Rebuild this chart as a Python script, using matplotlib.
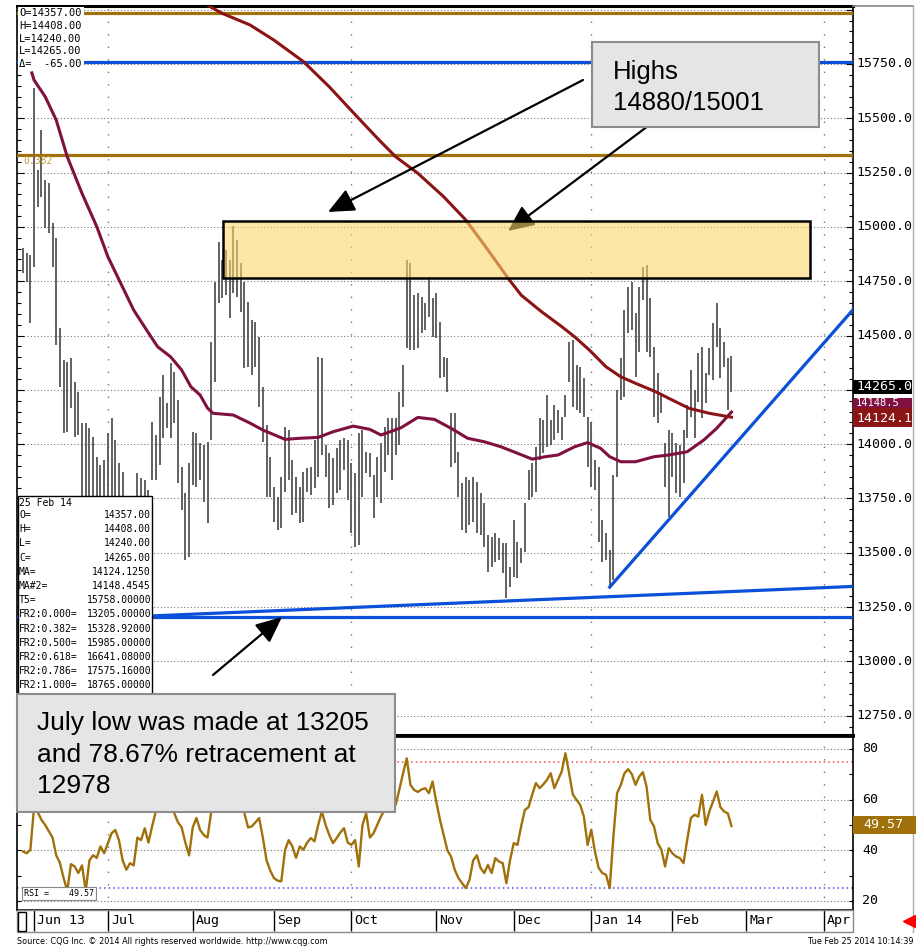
import matplotlib
matplotlib.use("Agg")
import matplotlib.pyplot as plt
import matplotlib.patches as mpatches
import matplotlib.lines as mlines
from matplotlib.ticker import MultipleLocator
import pandas as pd

# daily bars, 29 May 2013 .. 25 Feb 2014
highs = [14901, 14880, 14870, 15639, 15262, 15446, 15216, 15202, 15018, 14949,
         14535, 14387, 14378, 14396, 14286, 14240, 14097, 14097, 14074, 14033,
         13941, 13904, 13927, 14051, 14120, 14019, 13913, 13872, 13750, 13700,
         13720, 13867, 13844, 13835, 13789, 14102, 14042, 14217, 14318, 14189,
         14373, 14332, 14203, 13895, 13775, 13913, 14056, 14051, 14005, 13996,
         14009, 14470, 14746, 14930, 14848, 14894, 14848, 15003, 14940, 14834,
         14746, 14654, 14571, 14562, 14493, 14263, 14088, 13941, 13803, 13756,
         13849, 14079, 14065, 13927, 13849, 13803, 13872, 13890, 13895, 14019,
         14401, 14396, 13996, 13959, 13936, 13982, 14019, 14028, 14019, 13913,
         13867, 14051, 14065, 13964, 13959, 13858, 13941, 14005, 14080, 14120,
         14120, 14120, 14240, 14364, 14848, 14834, 14686, 14696, 14677, 14650,
         14769, 14673, 14696, 14562, 14401, 14396, 14143, 14143, 13964, 13820,
         13849, 13835, 13849, 13826, 13775, 13729, 13581, 13572, 13591, 13568,
         13545, 13545, 13434, 13651, 13549, 13522, 13729, 13881, 13913, 13987,
         14120, 14111, 14226, 14111, 14180, 14157, 14125, 14226, 14470, 14479,
         14364, 14355, 14304, 14125, 14102, 13927, 13895, 13651, 13591, 13512,
         13858, 14249, 14396, 14617, 14723, 14746, 14604, 14723, 14815, 14824,
         14673, 14447, 14327, 14235, 14005, 14065, 14051, 14005, 13996, 14065,
         14180, 14341, 14249, 14419, 14447, 14327, 14442, 14557, 14650, 14535,
         14470, 14396, 14408]
lows = [14786, 14746, 14557, 14815, 15092, 15138, 14995, 14972, 14815, 14456,
        14263, 14051, 14055, 14166, 14033, 14042, 13700, 13650, 13600, 13650,
        13600, 13550, 13600, 13700, 13750, 13700, 13650, 13550, 13500, 13205,
        13480, 13550, 13600, 13620, 13600, 13835, 13835, 13904, 14028, 14074,
        14028, 14097, 13821, 13697, 13466, 13480, 13812, 13803, 13835, 13733,
        13636, 14019, 14286, 14650, 14673, 14686, 14581, 14696, 14677, 14608,
        14350, 14355, 14318, 14355, 14171, 14010, 13756, 13756, 13641, 13605,
        13614, 13779, 13835, 13674, 13683, 13637, 13641, 13779, 13766, 13798,
        13849, 13950, 13849, 13706, 13720, 13775, 13789, 13881, 13743, 13591,
        13526, 13535, 13756, 13867, 13849, 13660, 13756, 13729, 13870, 13950,
        13835, 13950, 13996, 14171, 14442, 14433, 14433, 14442, 14511, 14525,
        14585, 14493, 14489, 14304, 14309, 14240, 13895, 13913, 13756, 13604,
        13591, 13627, 13641, 13591, 13582, 13526, 13411, 13434, 13457, 13466,
        13407, 13291, 13342, 13388, 13384, 13453, 13503, 13743, 13756, 13779,
        13927, 13959, 13987, 13996, 14019, 14051, 14019, 14125, 14286, 14170,
        14157, 14143, 14125, 13895, 13803, 13789, 13549, 13457, 13466, 13342,
        13374, 13849, 14203, 14217, 14511, 14525, 14309, 14424, 14663, 14424,
        14401, 14125, 14097, 14143, 13803, 13664, 13849, 13775, 13756, 13821,
        14028, 14125, 14028, 14194, 14120, 14189, 14318, 14295, 14447, 14304,
        14355, 14157, 14240]
rsi = [39.5, 38.8, 40.2, 57, 55, 52, 50, 47.5, 45, 38,
       35, 29, 24, 34.5, 33.6, 31, 34, 24, 36, 38,
       37, 41.5, 38.8, 42.8, 46.7, 48, 44, 36, 32.3, 34.9,
       34, 45, 44, 48.7, 43, 49.5, 55.3, 58, 62, 64,
       60, 54.6, 51, 49, 43, 38, 49, 52.7, 48, 46,
       45, 55, 60, 66, 71, 68, 69, 66, 70, 64,
       54.6, 49, 49.4, 51, 52.7, 45, 36, 32, 29, 28,
       27.7, 40, 44, 41.5, 37, 41.5, 40.2, 43, 44.8, 43.5,
       50, 55.3, 50, 46, 42.8, 44.8, 47, 48.7, 43, 42.1,
       44, 33.6, 50, 54.6, 45, 46.7, 50, 53.3, 55.9, 55.9,
       55.5, 58, 64, 70.4, 76.3, 65.8, 63.8, 63, 64, 64.5,
       62.5, 67.1, 59.2, 52, 46, 40, 37.5, 32.3, 29, 27,
       25, 28.3, 36, 38, 33, 31, 34.2, 31, 36.9, 35.5,
       34.9, 27, 36.2, 42.8, 42.1, 49.4, 55.9, 57, 62, 66.5,
       64.5, 66, 67.8, 70.4, 64.5, 67.8, 71.1, 78.3, 70.4, 62,
       59.9, 57.9, 53.3, 42.1, 48.1, 39.5, 33, 31, 30.3, 25,
       45.4, 62.5, 65.8, 70.4, 72, 70, 65.8, 69.1, 70.8, 65,
       52, 49.4, 42.8, 40.2, 33.6, 40.8, 38.8, 37.5, 36.9, 34.9,
       44.1, 52.7, 54, 53.3, 61.9, 50, 55.3, 59.2, 63.2, 57,
       55.3, 54.6, 49.57]

# moving averages traced at bar positions
ma_idx = [49, 54, 61.5, 68, 76, 83, 90.5, 96.5, 101, 107, 114, 120, 126, 131.5,
          135, 140.5, 146, 149.5, 153.5, 158, 162, 166, 171.5, 175, 180.5, 186, 192]
ma_val = [16030, 15983, 15930, 15860, 15761, 15645, 15508, 15400, 15323, 15247,
          15139, 15032, 14894, 14763, 14686, 14610, 14541, 14494, 14433, 14356,
          14310, 14280, 14241, 14211, 14165, 14142, 14124]
ma2_idx = [2.4, 3, 6, 9, 12, 16, 20, 23, 26.5, 30, 34, 36.5, 40, 43, 45.5, 48, 50,
           51.5, 57, 61.5, 65, 71, 75, 80, 84, 89.5, 94, 97, 99.5, 102.5, 107,
           111.5, 116, 120.5, 125, 129.5, 134, 138, 141.5, 145, 149.5, 153,
           156.5, 159, 162, 166, 171, 175, 180, 184.5, 188, 192]
ma2_val = [15709, 15676, 15600, 15492, 15323, 15154, 15001, 14863, 14740, 14617,
           14512, 14448, 14402, 14341, 14264, 14226, 14166, 14142, 14134, 14097,
           14065, 14022, 14027, 14031, 14057, 14083, 14068, 14042, 14057, 14076,
           14123, 14114, 14073, 14027, 14011, 13988, 13958, 13931, 13942, 13950,
           13988, 14007, 13981, 13942, 13919, 13919, 13942, 13950, 13965, 14019,
           14073, 14148]

# levels
t5 = 15758.0
fr_levels = {"0.000": 13205.0, "0.382": 15328.92, "0.500": 15985.0,
             "0.618": 16641.08, "0.786": 17575.16, "1.000": 18765.0}
# trend lines: (bar index pair, price pair)
trend1_x, trend1_y = [29, 225], [13205, 13345]
trend2_x, trend2_y = [159, 225], [13342, 14620]
# highs zone
zone_x = [54.3, 213.3]
zone_y = [14765, 15025]

last_ohlc = [14357.00, 14408.00, 14240.00, 14265.00]
last_delta = -65.00
ma_last, ma2_last = 14124.1250, 14148.4545
rsi_last = 49.57
ob, os_ = 75, 25

W, H = 916, 949
fig = plt.figure(figsize=(W / 100, H / 100), dpi=100)

def fx(x):
    return x / W

def fy(y):
    return 1 - y / H

YTOP, YBOT = 16017, 12661
X0, X1 = 17, 853
ax = fig.add_axes([fx(X0), fy(735), (X1 - X0) / W, (735 - 6) / H])
ax2 = fig.add_axes([fx(X0), fy(910), (X1 - X0) / W, (910 - 736) / H])
xl = ((X0 - 23) / 3.69, (X1 - 23) / 3.69)

def ypix(p):
    return 6 + (YTOP - p) / (YTOP - YBOT) * 729

mono = "DejaVu Sans Mono"
gold = "#A0700A"
blue = "#0A50D8"
grid_c = "#777777"

n = len(highs)
dates = pd.bdate_range("2013-05-29", "2014-04-30", freq="C",
                       holidays=["2013-12-25", "2014-01-01"])
month_pos, month_lab = [], []
for i in range(1, len(dates)):
    if dates[i].month != dates[i - 1].month:
        month_pos.append(i)
        d = dates[i]
        if d.month == 6 or d.month == 1:
            month_lab.append(d.strftime("%b %y"))
        else:
            month_lab.append(d.strftime("%b"))
quarter_pos = [p for p in month_pos if dates[p].month in (1, 4, 7, 10)]

# ---- price panel
ax.set_xlim(*xl)
ax.set_ylim(YBOT, YTOP)
for lv in range(12750, 16001, 250):
    ax.axhline(lv, color=grid_c, lw=0.8, ls=(0, (1, 2)), zorder=1)
for q in quarter_pos:
    ax.axvline(q, color=grid_c, lw=1.0, ls=(0, (1, 8)), zorder=1)

ax.vlines(range(n), lows, highs, colors="#555555", lw=1.3, zorder=2)

ax.axhline(fr_levels["0.500"], color=gold, lw=2.3, zorder=3)
ax.axhline(fr_levels["0.382"], color=gold, lw=2.3, zorder=3)
ax.axhline(t5, color=blue, lw=2.3, zorder=3)
ax.axhline(fr_levels["0.000"], color=blue, lw=2.3, zorder=3)
ax.plot(trend1_x, trend1_y, color=blue, lw=2.3, zorder=3)
ax.plot(trend2_x, trend2_y, color=blue, lw=2.3, zorder=3)
ax.text(0.0, fr_levels["0.382"] - 25, "0.382", color="#C89A40", fontsize=7,
        family=mono, va="center", zorder=3)

ax.plot(ma2_idx, ma2_val, color="#7F1040", lw=2.2, zorder=4)
ax.plot(ma_idx, ma_val, color="#8B1414", lw=2.2, zorder=4)

arrow_kw = dict(arrowstyle="-|>,head_length=0.4,head_width=0.18", mutation_scale=40,
                lw=1.6, color="black", shrinkA=0, shrinkB=0)
for tail, head in [((583, 80), (328, 212)), ((660, 117), (508, 231)), ((213, 675), (282, 617))]:
    ax.annotate("", xy=(head[0], H - head[1]), xycoords="figure pixels",
                xytext=(tail[0], H - tail[1]), textcoords="figure pixels",
                arrowprops=arrow_kw, zorder=5, annotation_clip=False)

ax.add_patch(mpatches.Rectangle((zone_x[0], zone_y[0]), zone_x[1] - zone_x[0],
                                zone_y[1] - zone_y[0],
                                facecolor=(252 / 255, 215 / 255, 107 / 255, 0.6),
                                edgecolor="black", lw=1.8, zorder=7))

ax.yaxis.set_major_locator(MultipleLocator(250))
ax.yaxis.set_minor_locator(MultipleLocator(50))
ax.set_xticks([])
ax.tick_params(axis="y", which="both", direction="in", left=True, right=True,
               labelleft=False, labelright=False, width=0.8)
ax.tick_params(axis="y", which="major", length=5)
ax.tick_params(axis="y", which="minor", length=3)
for s in ax.spines.values():
    s.set_color("black")
    s.set_linewidth(1.2)
ax.spines["top"].set_linewidth(2.2)
ax.spines["bottom"].set_linewidth(2.2)

for lv in range(12750, 15751, 250):
    if lv == 14250:
        continue
    ax.text(1.0036, lv, f"{lv:.1f}", transform=ax.get_yaxis_transform(),
            fontsize=9.5, family=mono, va="center", ha="left", clip_on=False)

# ---- RSI panel
ax2.set_xlim(*xl)
ax2.set_ylim(16.4, 85.1)
for lv in (20, 40, 60, 80):
    ax2.axhline(lv, color=grid_c, lw=0.8, ls=(0, (1, 2)), zorder=1)
for q in quarter_pos:
    ax2.axvline(q, color=grid_c, lw=1.0, ls=(0, (1, 8)), zorder=1)
ax2.axhline(ob, color="#FF4A4A", lw=1.1, ls=(0, (1, 2)), zorder=2)
ax2.axhline(os_, color="#4A4AFF", lw=1.1, ls=(0, (1, 2)), zorder=2)
ax2.plot(range(n), rsi, color=gold, lw=1.7, zorder=3)

ax2.yaxis.set_major_locator(MultipleLocator(20))
ax2.yaxis.set_minor_locator(MultipleLocator(10))
ax2.tick_params(axis="y", which="both", direction="in", left=True, right=True,
                labelleft=False, labelright=False, width=0.8, length=3)
ax2.set_xticks(month_pos)
ax2.tick_params(axis="x", which="major", direction="out", length=15, width=1,
                labelbottom=False)
for s in ax2.spines.values():
    s.set_color("black")
    s.set_linewidth(1.2)
ax2.spines["top"].set_linewidth(2.0)
for lv in (20, 40, 60, 80):
    ax2.text(1.011, lv, str(lv), transform=ax2.get_yaxis_transform(),
             fontsize=9.5, family=mono, va="center", ha="left", clip_on=False)
for p, lab in zip(month_pos, month_lab):
    ax2.text(p + 0.8, -0.063, lab, transform=ax2.get_xaxis_transform(),
             fontsize=9.5, family=mono, va="center", ha="left", clip_on=False)
ax2.text(0.2, 23.0, f"RSI =    {rsi_last:.2f}", fontsize=6, family=mono, va="center",
         ha="left", zorder=6,
         bbox=dict(boxstyle="square,pad=0.25", fc="white", ec="#888888", lw=0.8))

# ---- figure level boxes and labels
def frect(x0, y0, x1, y1, **kw):
    r = mpatches.Rectangle((fx(x0), fy(y1)), (x1 - x0) / W, (y1 - y0) / H,
                           transform=fig.transFigure, **kw)
    fig.add_artist(r)
    return r

# top-left quote
frect(18, 7, 84, 71, fc="white", ec="none", zorder=5)
quote = [f"O={last_ohlc[0]:.2f}", f"H={last_ohlc[1]:.2f}", f"L={last_ohlc[2]:.2f}",
         f"L={last_ohlc[3]:.2f}", f"\u0394=  {last_delta:.2f}"]
for k, t in enumerate(quote):
    fig.text(fx(19), fy(13 + 12.8 * k), t, fontsize=7.5, family=mono, va="center",
             ha="left", zorder=6)

# info box
frect(18, 496, 152, 695, fc="white", ec="black", lw=1.0, zorder=5)
info = [("O=", f"{last_ohlc[0]:.2f}"), ("H=", f"{last_ohlc[1]:.2f}"),
        ("L=", f"{last_ohlc[2]:.2f}"), ("C=", f"{last_ohlc[3]:.2f}"),
        ("MA=", f"{ma_last:.4f}"), ("MA#2=", f"{ma2_last:.4f}"),
        ("T5=", f"{t5:.5f}")]
info += [(f"FR2:{k}=", f"{v:.5f}") for k, v in fr_levels.items()]
fig.text(fx(19), fy(503), "25 Feb 14", fontsize=7, family=mono, va="center", zorder=6)
for k, (a, b) in enumerate(info):
    yy = 515 + 14.2 * k
    fig.text(fx(19), fy(yy), a, fontsize=7, family=mono, va="center", ha="left", zorder=6)
    fig.text(fx(151), fy(yy), b, fontsize=7, family=mono, va="center", ha="right", zorder=6)

# highs callout
frect(592, 42, 819, 127, fc="#E5E5E5", ec="#8C8C8C", lw=1.5, zorder=5)
fig.text(fx(613), fy(79), "Highs", fontsize=18.5, family="Liberation Sans",
         va="baseline", ha="left", zorder=6)
fig.text(fx(613), fy(110), "14880/15001", fontsize=18.5, family="Liberation Sans",
         va="baseline", ha="left", zorder=6)

# July low callout
frect(17, 694, 395, 812, fc="#E5E5E5", ec="#8C8C8C", lw=1.5, zorder=5)
for t, yb in [("July low was made at 13205", 730), ("and 78.67% retracement at", 762),
              ("12978", 793)]:
    fig.text(fx(37), fy(yb), t, fontsize=19, family="Liberation Sans",
             va="baseline", ha="left", zorder=6)

# right side value boxes
def side_box(yc, h, color, text, x_text=856, x1=912, size=9.5):
    frect(853, yc - h / 2, x1, yc + h / 2, fc=color, ec="none", zorder=6)
    fig.text(fx(x_text), fy(yc), text, color="white", fontsize=size, family=mono,
             va="center", ha="left", zorder=7)

side_box(ypix(last_ohlc[3]), 14, "black", f"{last_ohlc[3]:.1f}")
side_box(403, 11, "#7F1040", f"{ma2_last:.1f}", size=7.5)
side_box(418, 19, "#8B1414", f"{ma_last:.1f}")
side_box(825, 18, gold, f"{rsi_last:.2f}", x_text=863, x1=916)

# frame of date row and outer edge
frect(17, 910, 853, 932, fc="none", ec="#888888", lw=1.0, zorder=4)
frect(18, 912, 26, 931, fc="white", ec="black", lw=1.0, zorder=5)
fig.add_artist(mlines.Line2D([fx(853), fx(913)], [fy(6), fy(6)], color="#888888",
                             lw=1.2, transform=fig.transFigure))
fig.add_artist(mlines.Line2D([fx(913), fx(913)], [fy(6), fy(932)], color="#AAAAAA",
                             lw=1.0, transform=fig.transFigure))
fig.add_artist(mlines.Line2D([fx(909)], [fy(921)], marker="<", color="red",
                             markersize=9, transform=fig.transFigure))

fig.text(fx(17), fy(942), "Source: CQG Inc. \u00a9 2014 All rights reserved worldwide. http://www.cqg.com",
         fontsize=6.5, fontstretch="condensed", va="center", ha="left")
fig.text(fx(913), fy(942), "Tue Feb 25 2014 10:14:39", fontsize=6.5,
         fontstretch="condensed", va="center", ha="right")

fig.savefig("out.png", dpi=100, facecolor="white")
